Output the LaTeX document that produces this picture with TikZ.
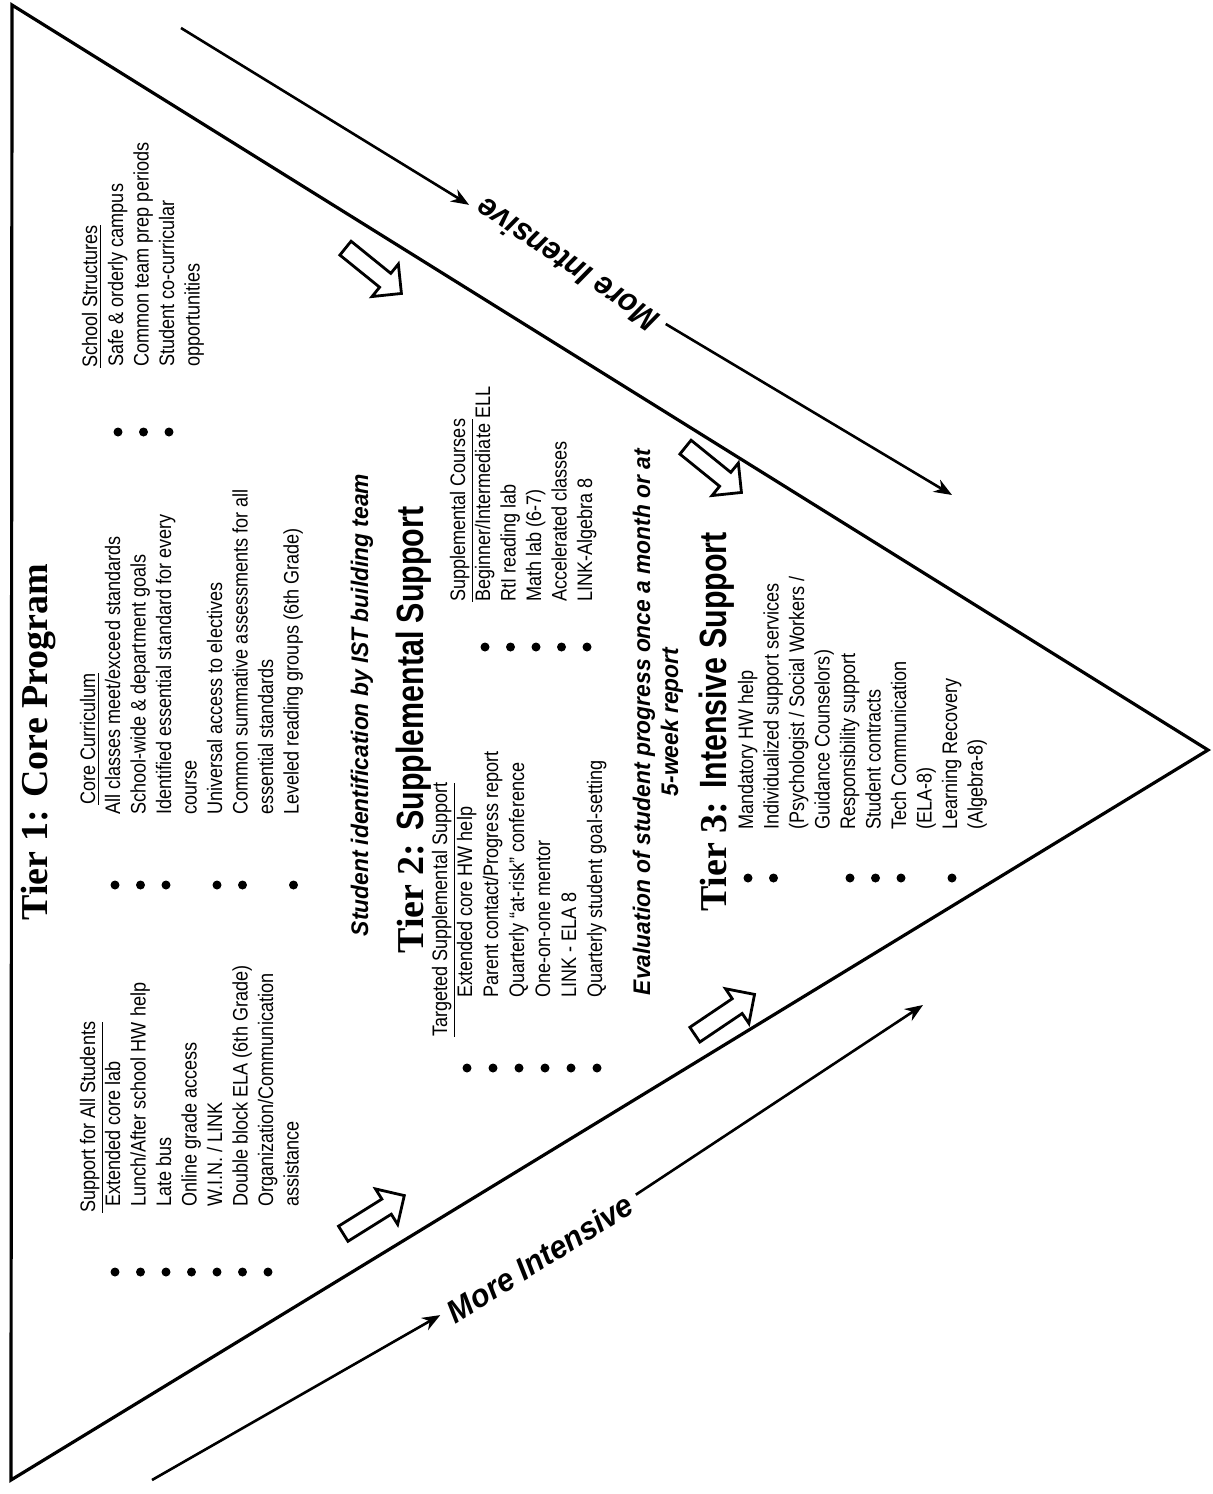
\documentclass[tikz,border=0pt]{standalone}
\usepackage{fontspec}
\setmainfont{Liberation Serif}
\newfontfamily\bodyfont[FakeStretch=0.86]{Liberation Sans}
\newfontfamily\narrowfont[FakeStretch=0.8]{Liberation Sans}
\newfontfamily\emfont[FakeStretch=0.95]{Liberation Sans}
\usetikzlibrary{shapes.arrows,arrows.meta}
\begin{document}
\begin{tikzpicture}[x=0.5pt,y=-0.5pt,
  txt/.style={rotate=90,anchor=base west,inner sep=0pt,font=\bodyfont\fontsize{10.5}{12}\selectfont},
  ttl/.style={rotate=90,anchor=base,inner sep=0pt},
  tierfont/.style={font=\bfseries\fontsize{19}{22}\selectfont},
  emtxt/.style={font=\emfont\bfseries\itshape\fontsize{12}{14}\selectfont},
  dot/.style={circle,fill=black,inner sep=0pt,minimum size=4.5pt},
  edge/.style={line width=1.6pt,line join=miter},
  arr/.style={line width=1.3pt,-{Stealth[length=9pt,width=7pt]}},
  barrow/.style={single arrow,draw,line width=1.4pt,fill=white,minimum height=36pt,inner sep=3.75pt,single arrow head extend=6pt}]
\fill[white] (0,0) rectangle (1212,1494);
\useasboundingbox (0,0) rectangle (1212,1494);

% triangle
\coordinate (T1) at (12,5);
\coordinate (T2) at (11,1480);
\coordinate (T3) at (1208,750);
\draw[edge] (T1) -- (T2) -- (T3) -- cycle;

% More intensive arrows
\node[rotate=146,inner sep=4pt,font=\emfont\bfseries\itshape\fontsize{16}{18}\selectfont] (mtop) at (567,265) {More Intensive};
\coordinate (ta) at (181,28);
\coordinate (tb) at (952,495);
\draw[arr] (ta) -- (mtop);
\draw[arr] (mtop) -- (tb);
\node[rotate=32,inner sep=4pt,font=\emfont\bfseries\itshape\fontsize{16}{18}\selectfont] (mbot) at (540,1258) {More Intensive};
\coordinate (ba) at (152,1480);
\coordinate (bb) at (923,1005);
\draw[arr] (ba) -- (mbot);
\draw[arr] (mbot) -- (bb);

% block arrows
\node[barrow,rotate=-39] (ba1) at (370,268) {};
\node[barrow,rotate=-39] (ba2) at (710,467) {};
\node[barrow,rotate=32] (ba3) at (370,1217) {};
\node[barrow,rotate=34] (ba4) at (721,1017) {};

% Tier 1
\node[ttl,tierfont] (t1) at (47,742) {Tier 1: Core Program};

% column 1
\node[txt] (h1) at (95,1213) {\underline{Support for All Students}};
\foreach \tx [count=\i] in {{Extended core lab},{Lunch/After school HW help},{Late bus},{Online grade access},{W.I.N. / LINK},{Double block ELA (6th Grade)},{Organization/Communication},{assistance}}
  \node[txt] (ca\i) at ({120+(\i-1)*25.5},1207) {\tx};
\foreach \r in {1,...,7}
  \node[dot] (da\r) at ({115+(\r-1)*25.5},1272) {};

% column 2
\node[txt] (h2) at (95,805) {\underline{Core Curriculum}};
\foreach \tx [count=\i] in {{All classes meet/exceed standards},{School-wide \& department goals},{Identified essential standard for every},{course},{Universal access to electives},{Common summative assessments for all},{essential standards},{Leveled reading groups (6th Grade)}}
  \node[txt] (cb\i) at ({120+(\i-1)*25.5},815) {\tx};
\foreach \r in {1,2,3,5,6,8}
  \node[dot] (db\r) at ({115+(\r-1)*25.5},885) {};

% column 3
\node[txt] (h3) at (97,368) {\underline{School Structures}};
\foreach \tx [count=\i] in {{Safe \& orderly campus},{Common team prep periods},{Student co-curricular},{opportunities}}
  \node[txt] (cc\i) at ({123+(\i-1)*25.5},367) {\tx};
\foreach \r in {1,2,3}
  \node[dot] (dc\r) at ({118+(\r-1)*25.5},432) {};

% student identification
\node[ttl,emtxt] (sid) at (368,705) {Student identification by IST building team};

% Tier 2
\node[ttl,tierfont] (t2) at (423,730) {Tier 2: {\narrowfont Supplemental Support}};
\node[txt] (h4) at (447,1037) {\underline{Targeted Supplemental Support}};
\foreach \tx [count=\i] in {{Extended core HW help},{Parent contact/Progress report},{Quarterly “at-risk” conference},{One-on-one mentor},{LINK - ELA 8},{Quarterly student goal-setting}}
  \node[txt] (cd\i) at ({472+(\i-1)*26},998) {\tx};
\foreach \r in {1,...,6}
  \node[dot] (dd\r) at ({467+(\r-1)*26},1068) {};
\node[txt] (h5) at (465,602) {\underline{Supplemental Courses}};
\foreach \tx [count=\i] in {{Beginner/Intermediate ELL},{RtI reading lab},{Math lab (6-7)},{Accelerated classes},{LINK-Algebra 8}}
  \node[txt] (ce\i) at ({490+(\i-1)*25.5},602) {\tx};
\foreach \r in {1,...,5}
  \node[dot] (de\r) at ({485+(\r-1)*25.5},647) {};

% evaluation
\node[ttl,emtxt] (ev1) at (650,722) {Evaluation of student progress once a month or at};
\node[ttl,emtxt] (ev2) at (678,722) {5-week report};

% Tier 3
\node[ttl,tierfont] (t3) at (726,722) {Tier 3: {\narrowfont Intensive Support}};
\foreach \tx [count=\i] in {{Mandatory HW help},{Individualized support services},{(Psychologist / Social Workers /},{Guidance Counselors)},{Responsibility support},{Student contracts},{Tech Communication},{(ELA-8)},{Learning Recovery},{(Algebra-8)}}
  \node[txt] (cf\i) at ({753+(\i-1)*25.5},830) {\tx};
\foreach \r in {1,2,5,6,7,9}
  \node[dot] (df\r) at ({748+(\r-1)*25.5},878) {};
\end{tikzpicture}
\end{document}
